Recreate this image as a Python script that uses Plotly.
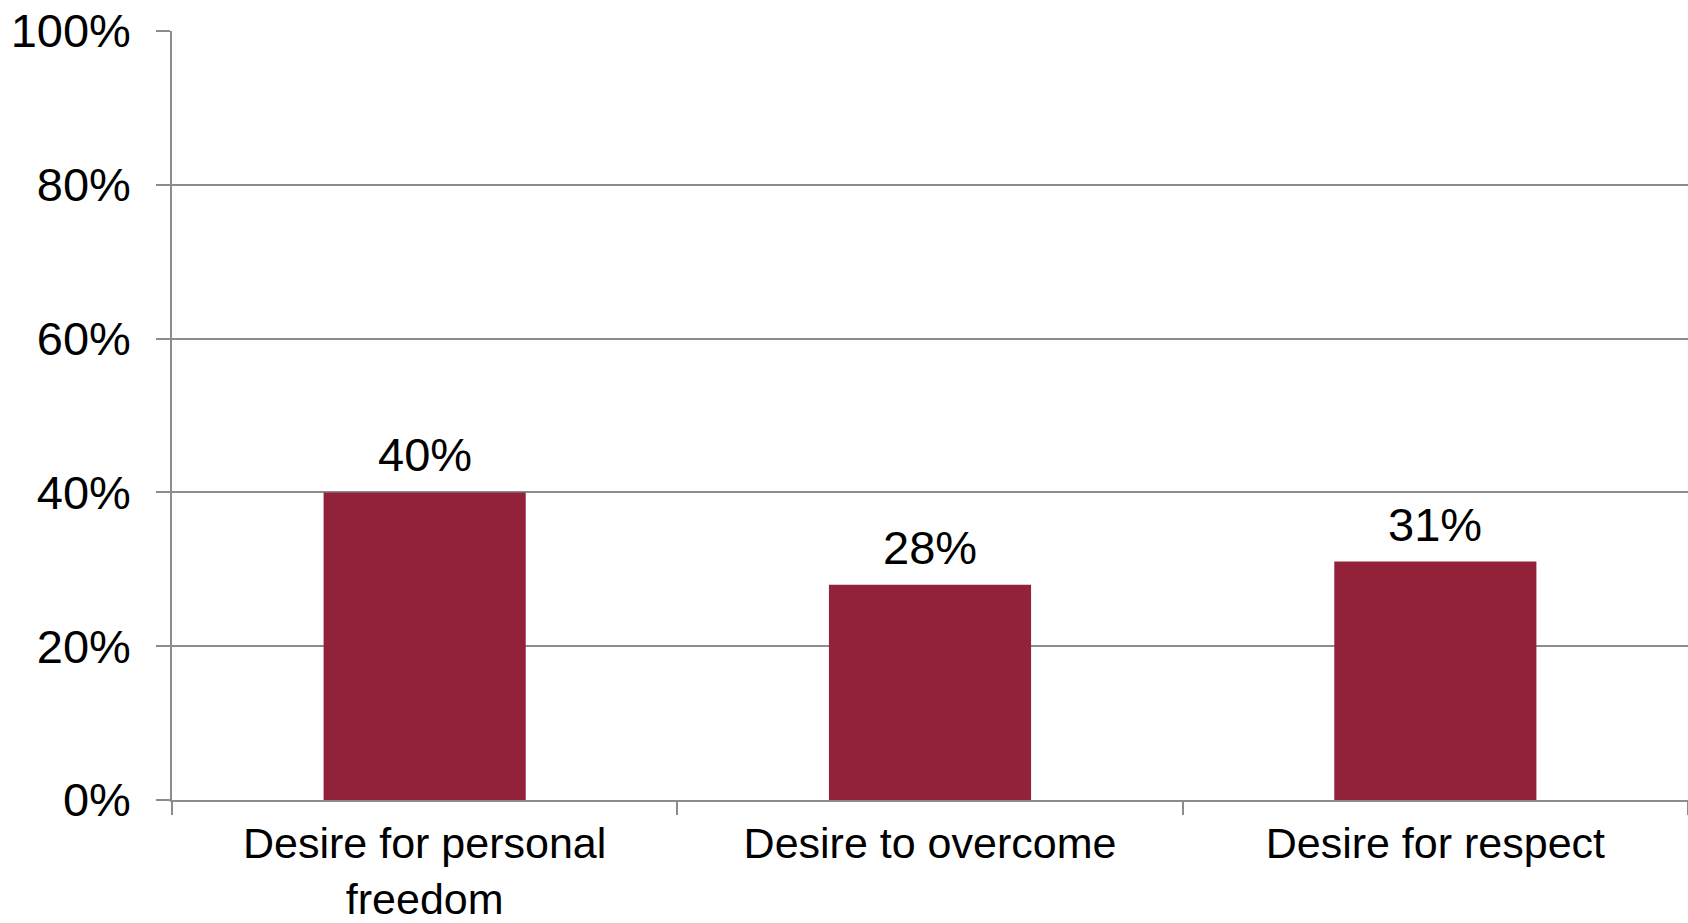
import plotly.graph_objects as go

categories = ["Desire for personal<br>freedom", "Desire to overcome", "Desire for respect"]
values = [0.40, 0.28, 0.31]
value_labels = ["40%", "28%", "31%"]
y_ticks = [0, 0.2, 0.4, 0.6, 0.8, 1.0]
y_tick_labels = ["0%", "20%", "40%", "60%", "80%", "100%"]

BAR = "#92223A"
GRID = "#8C8C8C"
FONT = "Liberation Sans, Arial, sans-serif"

fig = go.Figure()
fig.add_trace(go.Bar(
    x=categories, y=values,
    marker=dict(color=BAR, line=dict(width=0)),
    width=0.4,
))

for c, v, t in zip(categories, values, value_labels):
    fig.add_annotation(
        x=c, y=v, text=t, showarrow=False,
        xanchor="center", yanchor="bottom", yshift=9,
        font=dict(family=FONT, size=47, color="black"),
    )

fig.update_layout(
    width=1688, height=923,
    margin=dict(l=172, r=0, t=31, b=123, autoexpand=False),
    paper_bgcolor="white", plot_bgcolor="white",
    showlegend=False,
    bargap=0.6,
    font=dict(family=FONT, color="black"),
    xaxis=dict(
        automargin=False,
        showgrid=False, showline=True, linecolor=GRID, linewidth=1.5,
        ticks="outside", tickson="boundaries", ticklen=13, tickcolor=GRID, tickwidth=1.5,
        tickfont=dict(family=FONT, size=43, color="black"),
        ticklabelstandoff=5,
    ),
    yaxis=dict(
        automargin=False,
        range=[0, 1.0], tickvals=y_ticks, ticktext=y_tick_labels,
        showgrid=True, gridcolor=GRID, gridwidth=1.5,
        showline=True, linecolor=GRID, linewidth=1.5,
        ticks="outside", ticklen=14, tickcolor=GRID, tickwidth=1.5,
        tickfont=dict(family=FONT, size=47, color="black"),
        ticklabelstandoff=16,
        zeroline=False,
    ),
)

fig.write_html("out.html")
